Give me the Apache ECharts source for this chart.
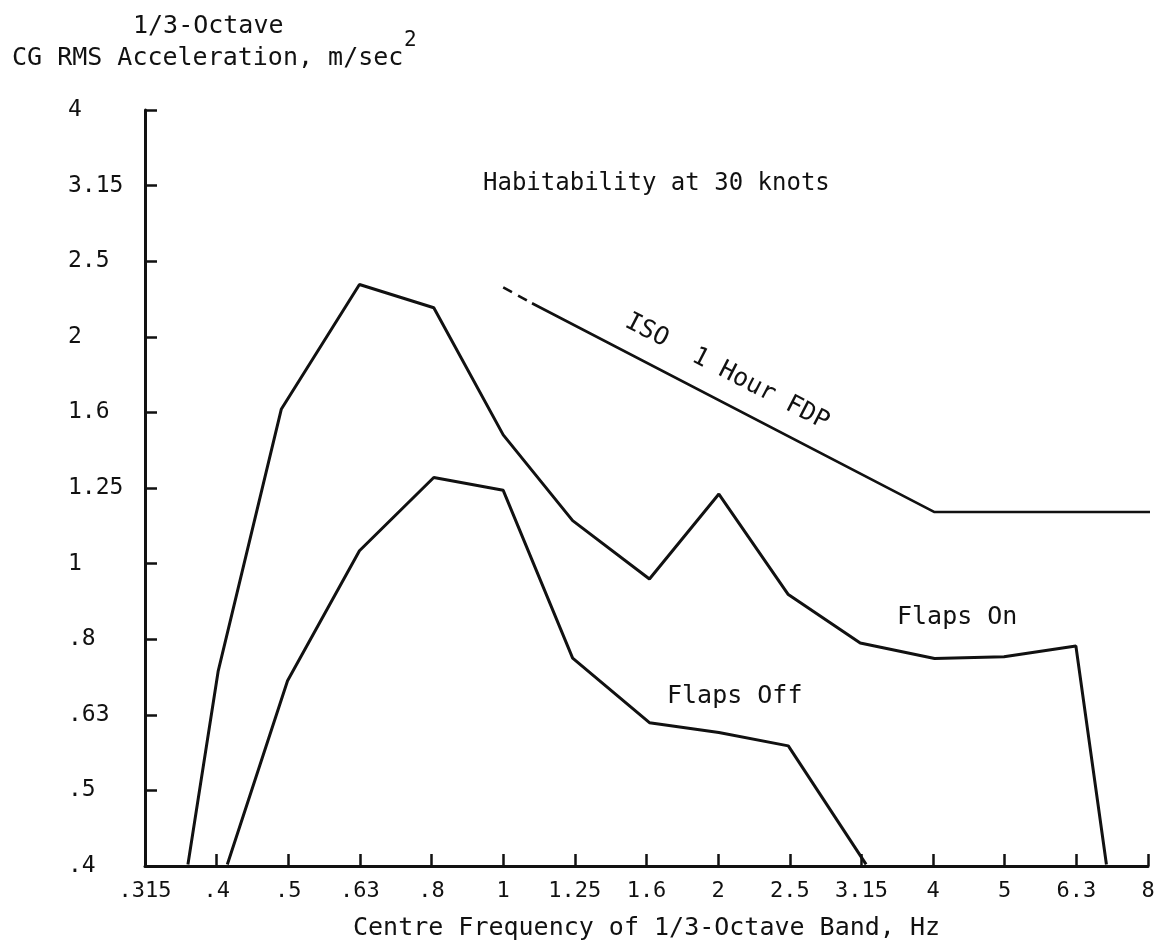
<!DOCTYPE html>
<html>
<head>
<meta charset="utf-8">
<script src="https://cdn.jsdelivr.net/npm/echarts@6/dist/echarts.min.js"></script>
<style>
html,body{margin:0;padding:0;background:#fff;}
#chart{width:1161px;height:950px;}
</style>
</head>
<body>
<div id="chart"></div>
<script>
// Tick labels (1/3-octave nominal values, evenly spaced on log scale)
var xTickLabels = ['.315', '.4', '.5', '.63', '.8', '1', '1.25', '1.6', '2', '2.5', '3.15', '4', '5', '6.3', '8'];
var yTickLabels = ['.4', '.5', '.63', '.8', '1', '1.25', '1.6', '2', '2.5', '3.15', '4'];

// Flaps On
var flapsOnFreq = [0.363, 0.40, 0.49, 0.63, 0.8, 1.0, 1.25, 1.6, 2.0, 2.5, 3.15, 4.0, 5.0, 6.3, 6.95];
var flapsOnAcc  = [0.40, 0.72, 1.60, 2.34, 2.18, 1.48, 1.14, 0.954, 1.236, 0.91, 0.785, 0.749, 0.753, 0.778, 0.40];

// Flaps Off
var flapsOffFreq = [0.412, 0.5, 0.63, 0.8, 1.0, 1.25, 1.6, 2.0, 2.5, 3.21];
var flapsOffAcc  = [0.40, 0.70, 1.04, 1.30, 1.25, 0.75, 0.616, 0.598, 0.574, 0.40];

// ISO 1 Hour FDP
var isoDashFreq = [1.0, 1.097];
var isoDashAcc  = [2.32, 2.21];
var isoFreq = [1.097, 4.0, 8.0];
var isoAcc  = [2.21, 1.17, 1.17];

function pts(f, a) {
  return f.map(function (v, i) { return [Math.log10(v), Math.log10(a[i])]; });
}

var FONT = '"DejaVu Sans Mono", monospace';
var INK = '#111';

var chart = echarts.init(document.getElementById('chart'), null, {renderer: 'canvas'});

var lineCommon = {
  type: 'line', symbol: 'none', silent: true, animation: false,
  lineStyle: {color: INK, width: 3}
};

chart.setOption({
  backgroundColor: '#fff',
  animation: false,
  grid: {left: 145, right: 13, top: 110, bottom: 84, containLabel: false},
  xAxis: {
    type: 'value', min: -0.5, max: 0.9, interval: 0.1,
    name: 'Centre Frequency of 1/3-Octave Band, Hz',
    nameLocation: 'middle', nameGap: 50,
    nameTextStyle: {fontFamily: FONT, fontSize: 25, color: INK},
    axisLine: {show: true, onZero: false, lineStyle: {color: INK, width: 3}},
    axisTick: {show: true, inside: true, length: 12, lineStyle: {color: INK, width: 2.5}},
    axisLabel: {
      fontFamily: FONT, fontSize: 22, color: INK, margin: 14,
      formatter: function (v) { var i = Math.round((v + 0.5) * 10); return xTickLabels[i] || ''; }
    },
    splitLine: {show: false}
  },
  yAxis: {
    type: 'value', min: -0.4, max: 0.6, interval: 0.1,
    axisLine: {show: true, onZero: false, lineStyle: {color: INK, width: 3}},
    axisTick: {show: true, inside: true, length: 12, lineStyle: {color: INK, width: 2.5}},
    axisLabel: {
      fontFamily: FONT, fontSize: 23, color: INK, margin: 77, align: 'left',
      formatter: function (v) { var i = Math.round((v + 0.4) * 10); return yTickLabels[i] || ''; }
    },
    splitLine: {show: false}
  },
  series: [
    Object.assign({}, lineCommon, {name: 'Flaps On', data: pts(flapsOnFreq, flapsOnAcc)}),
    Object.assign({}, lineCommon, {name: 'Flaps Off', data: pts(flapsOffFreq, flapsOffAcc)}),
    Object.assign({}, lineCommon, {name: 'ISO 1 Hour FDP', data: pts(isoFreq, isoAcc), lineStyle: {color: INK, width: 2.6}}),
    Object.assign({}, lineCommon, {name: 'ISO dashed', data: pts(isoDashFreq, isoDashAcc), lineStyle: {color: INK, width: 2.6, type: [10, 7]}})
  ],
  graphic: [
    {type: 'text', left: 133, top: 14, style: {text: '1/3-Octave', font: '25px ' + FONT, fill: INK}},
    {type: 'text', left: 12, top: 46, style: {text: 'CG RMS Acceleration, m/sec', font: '25px ' + FONT, fill: INK}},
    {type: 'text', left: 404, top: 30, style: {text: '2', font: '21px ' + FONT, fill: INK}},
    {type: 'text', left: 483, top: 172, style: {text: 'Habitability at 30 knots', font: '24px ' + FONT, fill: INK}},
    {type: 'text', left: 897, top: 605, style: {text: 'Flaps On', font: '25px ' + FONT, fill: INK}},
    {type: 'text', left: 667, top: 684, style: {text: 'Flaps Off', font: '25px ' + FONT, fill: INK}},
    {type: 'text', x: 727, y: 372, rotation: -27.3 * Math.PI / 180,
      style: {text: 'ISO  1 Hour FDP', font: '25px ' + FONT, fill: INK, textAlign: 'center', textVerticalAlign: 'middle'}}
  ]
});
</script>
</body>
</html>
